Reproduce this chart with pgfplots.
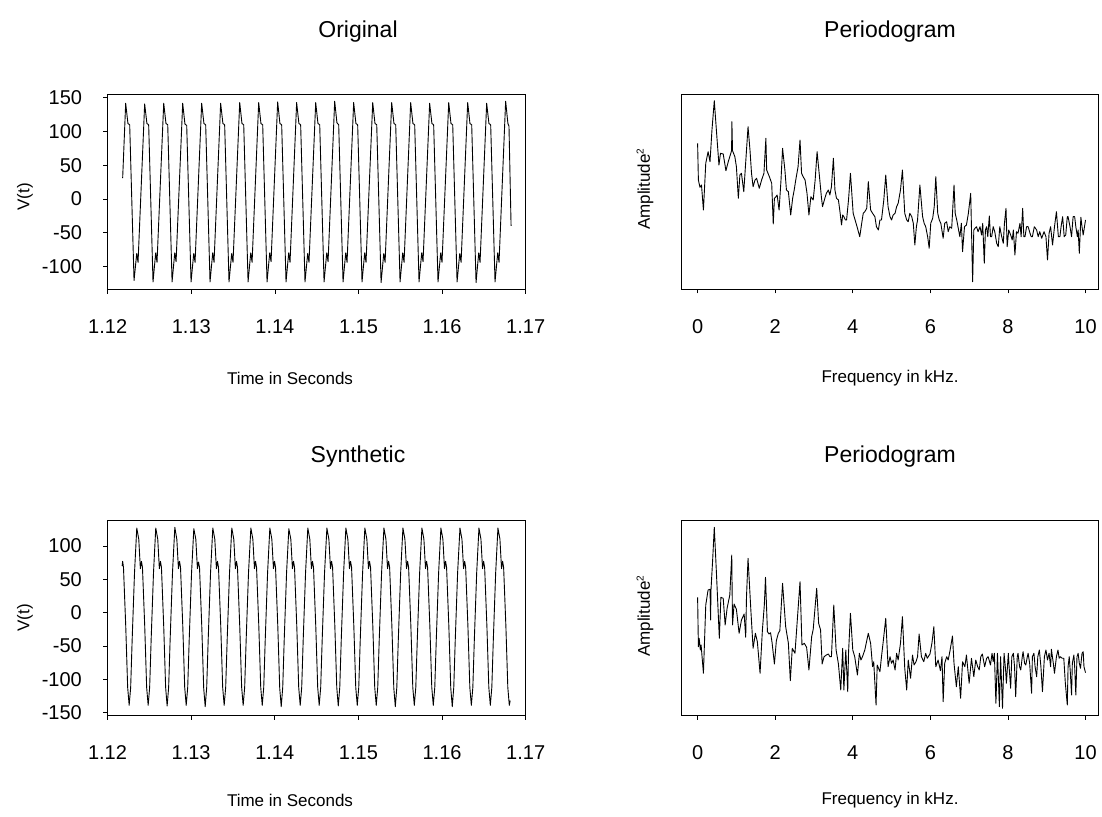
\documentclass[border=0pt]{standalone}
\usepackage{fontspec}
\setmainfont{Liberation Sans}
\usepackage{pgfplots}
\pgfplotsset{compat=1.18}
\pgfplotsset{
  panel/.style={scale only axis,
    axis line style={black, line width=0.8pt},
    tick style={black, line width=0.8pt},
    tick align=outside, major tick length=4.5pt,
    xtick pos=left, ytick pos=left,
    tick label style={font=\fontsize{20}{24}\selectfont},
    xticklabel style={inner sep=0pt, yshift=-26pt},
    yticklabel style={inner sep=0pt, xshift=-21pt}},
  sig/.style={black, line width=0.9pt, line join=round, no marks}
}
\begin{document}
\begin{tikzpicture}
\path (0pt,0pt) rectangle (1102pt,816pt);

% ---------------- Original ----------------
\begin{axis}[panel, at={(107.7pt,526.7pt)}, anchor=south west, width=418pt, height=195.3pt,
  xmin=1.12, xmax=1.17, ymin=-134, ymax=155.7,
  xtick={1.12,1.13,1.14,1.15,1.16,1.17}, xticklabels={1.12,1.13,1.14,1.15,1.16,1.17},
  ytick={-100,-50,0,50,100,150}, yticklabels={-100,-50,0,50,100,150}]
\addplot[sig] coordinates {
(1.12179,31)
(1.12215,142)(1.12242,112)(1.12263,110)(1.12315,-121)(1.12347,-81)(1.12363,-94)
(1.12442,141)(1.12469,112)(1.12490,110)(1.12542,-123)(1.12574,-80)(1.12590,-94)
(1.12670,142)(1.12697,112)(1.12718,110)(1.12770,-123)(1.12802,-80)(1.12818,-93)
(1.12897,142)(1.12924,111)(1.12945,109)(1.12997,-123)(1.13029,-81)(1.13045,-94)
(1.13124,142)(1.13151,112)(1.13172,110)(1.13224,-123)(1.13256,-80)(1.13272,-94)
(1.13351,142)(1.13378,112)(1.13399,110)(1.13451,-123)(1.13483,-81)(1.13499,-94)
(1.13579,143)(1.13606,112)(1.13627,110)(1.13679,-123)(1.13711,-80)(1.13727,-94)
(1.13806,143)(1.13833,112)(1.13854,110)(1.13906,-123)(1.13938,-80)(1.13954,-93)
(1.14033,144)(1.14060,112)(1.14081,110)(1.14133,-123)(1.14165,-80)(1.14181,-94)
(1.14260,143)(1.14287,112)(1.14308,110)(1.14360,-123)(1.14392,-81)(1.14408,-94)
(1.14488,143)(1.14515,112)(1.14536,110)(1.14588,-123)(1.14620,-80)(1.14636,-93)
(1.14715,145)(1.14742,113)(1.14763,110)(1.14815,-123)(1.14847,-80)(1.14863,-94)
(1.14942,143)(1.14969,112)(1.14990,110)(1.15042,-123)(1.15074,-80)(1.15090,-94)
(1.15170,143)(1.15197,112)(1.15218,110)(1.15270,-124)(1.15302,-81)(1.15318,-94)
(1.15397,143)(1.15424,112)(1.15445,110)(1.15497,-123)(1.15529,-80)(1.15545,-94)
(1.15624,143)(1.15651,112)(1.15672,110)(1.15724,-123)(1.15756,-80)(1.15772,-93)
(1.15851,142)(1.15878,112)(1.15899,110)(1.15951,-123)(1.15983,-80)(1.15999,-94)
(1.16079,143)(1.16106,112)(1.16127,110)(1.16179,-123)(1.16211,-81)(1.16227,-94)
(1.16306,143)(1.16333,112)(1.16354,110)(1.16406,-124)(1.16438,-80)(1.16454,-94)
(1.16533,142)(1.16560,112)(1.16581,110)(1.16633,-123)(1.16665,-80)(1.16681,-94)
(1.16760,145)(1.16787,112)(1.16800,108)(1.16825,-40)
};
\end{axis}

% ---------------- Synthetic ----------------
\begin{axis}[panel, at={(107.5pt,101pt)}, anchor=south west, width=418.2pt, height=195pt,
  xmin=1.12, xmax=1.17, ymin=-153.5, ymax=139,
  xtick={1.12,1.13,1.14,1.15,1.16,1.17}, xticklabels={1.12,1.13,1.14,1.15,1.16,1.17},
  ytick={-150,-100,-50,0,50,100}, yticklabels={-150,-100,-50,0,50,100}]
\addplot[sig] coordinates {
(1.12175,70)(1.12181,77)(1.12191,68)(1.12218,-20)(1.12241,-112)(1.12259,-139)(1.12277,-112)(1.12295,-40)(1.12323,60)
(1.12350,127)(1.12374,110)(1.12393,66)(1.12406,77)(1.12418,68)(1.12445,-20)(1.12468,-112)(1.12486,-139)(1.12504,-112)(1.12522,-40)(1.12550,60)
(1.12577,127)(1.12601,110)(1.12620,66)(1.12633,77)(1.12645,68)(1.12672,-20)(1.12695,-112)(1.12713,-140)(1.12731,-112)(1.12749,-40)(1.12777,60)
(1.12805,128)(1.12829,110)(1.12848,66)(1.12861,77)(1.12873,68)(1.12900,-20)(1.12923,-112)(1.12941,-139)(1.12959,-112)(1.12977,-40)(1.13005,60)
(1.13032,126)(1.13056,110)(1.13075,66)(1.13088,76)(1.13100,68)(1.13127,-20)(1.13150,-113)(1.13168,-141)(1.13186,-112)(1.13204,-40)(1.13232,60)
(1.13259,127)(1.13283,110)(1.13302,66)(1.13315,77)(1.13327,68)(1.13354,-20)(1.13377,-112)(1.13395,-139)(1.13413,-112)(1.13431,-40)(1.13459,60)
(1.13486,127)(1.13510,110)(1.13529,66)(1.13542,77)(1.13554,68)(1.13581,-20)(1.13604,-112)(1.13622,-139)(1.13640,-112)(1.13658,-40)(1.13686,60)
(1.13714,127)(1.13738,110)(1.13757,66)(1.13770,77)(1.13782,68)(1.13809,-20)(1.13832,-112)(1.13850,-139)(1.13868,-112)(1.13886,-40)(1.13914,60)
(1.13941,127)(1.13965,110)(1.13984,66)(1.13997,77)(1.14009,68)(1.14036,-20)(1.14059,-113)(1.14077,-141)(1.14095,-112)(1.14113,-40)(1.14141,60)
(1.14168,126)(1.14192,110)(1.14211,66)(1.14224,77)(1.14236,68)(1.14263,-20)(1.14286,-112)(1.14304,-139)(1.14322,-112)(1.14340,-40)(1.14368,60)
(1.14395,127)(1.14419,110)(1.14438,66)(1.14451,77)(1.14463,68)(1.14490,-20)(1.14513,-112)(1.14531,-139)(1.14549,-112)(1.14567,-40)(1.14595,60)
(1.14623,127)(1.14647,110)(1.14666,66)(1.14679,77)(1.14691,68)(1.14718,-20)(1.14741,-112)(1.14759,-140)(1.14777,-112)(1.14795,-40)(1.14823,60)
(1.14850,127)(1.14874,110)(1.14893,66)(1.14906,77)(1.14918,68)(1.14945,-20)(1.14968,-112)(1.14986,-139)(1.15004,-112)(1.15022,-40)(1.15050,60)
(1.15077,127)(1.15101,110)(1.15120,66)(1.15133,77)(1.15145,68)(1.15172,-20)(1.15195,-112)(1.15213,-139)(1.15231,-112)(1.15249,-40)(1.15277,60)
(1.15305,127)(1.15329,110)(1.15348,66)(1.15361,77)(1.15373,68)(1.15400,-20)(1.15423,-113)(1.15441,-141)(1.15459,-112)(1.15477,-40)(1.15505,60)
(1.15532,127)(1.15556,110)(1.15575,66)(1.15588,77)(1.15600,68)(1.15627,-20)(1.15650,-112)(1.15668,-139)(1.15686,-112)(1.15704,-40)(1.15732,60)
(1.15759,127)(1.15783,110)(1.15802,66)(1.15815,77)(1.15827,68)(1.15854,-20)(1.15877,-112)(1.15895,-139)(1.15913,-112)(1.15931,-40)(1.15959,60)
(1.15986,127)(1.16010,110)(1.16029,66)(1.16042,77)(1.16054,68)(1.16081,-20)(1.16104,-113)(1.16122,-141)(1.16140,-112)(1.16158,-40)(1.16186,60)
(1.16214,127)(1.16238,110)(1.16257,66)(1.16270,77)(1.16282,68)(1.16309,-20)(1.16332,-112)(1.16350,-139)(1.16368,-112)(1.16386,-40)(1.16414,60)
(1.16441,127)(1.16465,110)(1.16484,66)(1.16497,77)(1.16509,68)(1.16536,-20)(1.16559,-112)(1.16577,-139)(1.16595,-112)(1.16613,-40)(1.16641,60)
(1.16668,127)(1.16692,110)(1.16711,66)(1.16724,77)(1.16736,68)(1.16763,-20)(1.16786,-112)(1.16804,-139)(1.16814,-132)
};
\end{axis}

% ---------------- Periodogram (original) ----------------
\begin{axis}[panel, at={(681.7pt,527pt)}, anchor=south west, width=417pt, height=195pt,
  xmin=-0.41, xmax=10.34, ymin=0, ymax=195,
  xtick={0,2,4,6,8,10}, xticklabels={0,2,4,6,8,10}, ytick=\empty]
\addplot[sig] coordinates {
(0.00,145.7)(0.02,109)(0.06,101.7)(0.10,104)(0.15,79)(0.21,125.7)(0.27,137.3)(0.32,127.3)(0.37,159)(0.43,188.3)
(0.49,155.7)(0.55,124)(0.59,135.7)(0.66,135)(0.73,118.3)(0.79,127.3)(0.876,138.3)(0.884,167.3)(0.90,138.3)(0.96,132.3)
(1.00,122.3)(1.05,90.7)(1.09,114)(1.13,115.7)(1.19,97.3)(1.30,162.3)(1.35,139)(1.39,115.7)(1.43,102.3)(1.48,109)
(1.52,110.7)(1.59,100.7)(1.65,109)(1.71,115.7)(1.76,150.7)(1.78,119)(1.85,112.3)(1.91,105.7)(1.95,65)(1.98,90.7)
(2.02,92.3)(2.05,94)(2.10,79)(2.15,109)(2.19,140.7)(2.25,119)(2.29,99)(2.34,97.3)(2.40,74)(2.45,90.7)
(2.49,99)(2.53,109)(2.59,122.3)(2.64,149)(2.68,115.7)(2.72,112.3)(2.77,109)(2.82,95.7)(2.87,74)(2.92,92.3)
(2.98,89)(3.03,109)(3.08,137.3)(3.15,109)(3.19,92.3)(3.22,82.3)(3.28,90.7)(3.32,95.7)(3.37,99)(3.41,94)
(3.45,102.3)(3.50,130.7)(3.54,99)(3.58,90.7)(3.63,89)(3.67,77.3)(3.71,64)(3.74,74)(3.77,72.3)(3.81,69)
(3.84,69)(3.89,89)(3.94,115.7)(4.01,75.7)(4.06,69)(4.11,62.3)(4.18,52.3)(4.23,65.7)(4.27,75.7)(4.31,77.3)
(4.36,80.7)(4.40,107.3)(4.46,79)(4.51,75.7)(4.57,72.3)(4.61,62.3)(4.66,59)(4.70,69)(4.74,69)(4.80,89)
(4.85,114)(4.91,82.3)(4.96,72.3)(5.00,69)(5.04,74)(5.09,75.7)(5.13,82.3)(5.17,85.7)(5.23,99)(5.28,119)
(5.34,75.7)(5.39,69)(5.43,67.3)(5.47,75.7)(5.52,72.3)(5.56,65.7)(5.60,44)(5.64,62.3)(5.67,69)(5.73,104)
(5.80,72.3)(5.84,65.7)(5.88,62.3)(5.93,52.3)(5.97,40.7)(6.01,65.7)(6.06,70.7)(6.10,82.3)(6.14,112.3)(6.19,75.7)
(6.23,69)(6.27,65.7)(6.33,50.7)(6.37,65.7)(6.42,67.3)(6.46,57.3)(6.50,62.3)(6.55,60.7)(6.61,104)(6.64,75.7)
(6.68,69)(6.72,60.7)(6.76,52.3)(6.80,65.7)(6.83,37.3)(6.88,62.3)(6.93,64)(6.98,75.7)(7.04,95.7)(7.09,7.3)
(7.12,59)(7.15,60.7)(7.19,62.3)(7.23,57.3)(7.28,62.3)(7.32,54)(7.35,65.7)(7.39,25.7)(7.42,59)(7.45,62.3)
(7.48,52.3)(7.52,73)(7.55,52.3)(7.58,52.3)(7.62,62.3)(7.66,57.3)(7.71,45.7)(7.75,42.3)(7.79,62.3)(7.83,54)
(7.88,45.7)(7.91,65.7)(7.95,80.7)(7.98,42.3)(8.02,59)(8.07,54)(8.11,49)(8.14,59)(8.18,34)(8.22,57.3)
(8.26,55.7)(8.31,65.7)(8.34,52.3)(8.38,80.7)(8.41,52.3)(8.44,52.3)(8.48,62.3)(8.52,62.3)(8.57,55.7)(8.60,52.3)
(8.63,52.3)(8.68,62.3)(8.74,59)(8.78,52.3)(8.82,57.3)(8.87,50.7)(8.93,57.3)(8.98,52.3)(9.02,29)(9.06,55.7)
(9.10,62.3)(9.15,44)(9.20,62.3)(9.25,77.3)(9.30,52.3)(9.34,52.3)(9.37,62.3)(9.41,72.3)(9.45,52.3)(9.49,54)
(9.53,72.3)(9.55,72.3)(9.60,62.3)(9.64,52.3)(9.68,72.3)(9.72,72.3)(9.75,62.3)(9.79,52.3)(9.81,59)(9.84,35.7)
(9.88,71.7)(9.91,62.3)(9.94,54)(10.00,69)
};
\end{axis}

% ---------------- Periodogram (synthetic) ----------------
\begin{axis}[panel, at={(681.7pt,101pt)}, anchor=south west, width=417pt, height=195pt,
  xmin=-0.41, xmax=10.34, ymin=0, ymax=195,
  xtick={0,2,4,6,8,10}, xticklabels={0,2,4,6,8,10}, ytick=\empty]
\addplot[sig] coordinates {
(0.00,117.7)(0.02,68.3)(0.04,76.7)(0.07,65)(0.09,70)(0.15,41.7)(0.21,110)(0.27,125)(0.32,125.7)(0.335,95)
(0.345,125)(0.39,156.7)(0.43,187.7)(0.49,138)(0.56,76.7)(0.60,117.7)(0.66,116.7)(0.71,90)(0.76,106.7)(0.83,120)
(0.88,160)(0.90,90)(0.94,111)(1.00,105.7)(1.07,81.7)(1.13,95)(1.20,101)(1.24,77.7)(1.26,118)(1.30,156.7)
(1.37,106.7)(1.43,66.7)(1.49,81.7)(1.54,73.3)(1.61,41.7)(1.67,85)(1.72,110)(1.75,137.7)(1.80,83.3)(1.84,81)
(1.88,82.3)(1.92,72.3)(1.98,51)(2.03,74.3)(2.08,81.7)(2.12,84.3)(2.19,131.7)(2.27,88.3)(2.34,71.7)(2.39,34.3)
(2.44,66.7)(2.51,61.7)(2.57,95)(2.64,133.3)(2.69,70)(2.75,71.7)(2.81,67.7)(2.87,45)(2.94,78.3)(2.98,85.7)
(3.07,126.7)(3.12,91.7)(3.17,85)(3.21,51)(3.26,58.3)(3.32,60)(3.37,61)(3.41,58.3)(3.45,58.3)(3.51,110)
(3.57,65)(3.63,51)(3.69,25)(3.74,66.7)(3.77,25)(3.82,65)(3.87,23.3)(3.89,61.7)(3.94,101.7)(4.00,65)
(4.05,58.3)(4.12,40)(4.17,61.7)(4.21,55)(4.25,58.3)(4.31,65)(4.40,81.7)(4.46,71.7)(4.51,48.3)(4.54,53.3)
(4.60,10)(4.63,50)(4.70,43.3)(4.74,58.3)(4.78,71.7)(4.85,96.7)(4.91,48.3)(4.96,58.3)(5.00,51.7)(5.04,55)
(5.09,45)(5.13,61.7)(5.17,55)(5.23,71.7)(5.28,98.3)(5.34,46.7)(5.39,25)(5.43,55)(5.49,36.7)(5.54,60)
(5.58,50)(5.63,53.3)(5.67,58.3)(5.71,81)(5.77,58.3)(5.83,53.3)(5.88,61.7)(5.92,56.7)(5.99,61)(6.04,71.7)
(6.09,88.3)(6.14,48.3)(6.20,55)(6.26,44.3)(6.30,58.3)(6.33,13.3)(6.37,51.7)(6.42,58.3)(6.46,55)(6.51,65)
(6.57,79)(6.61,51.7)(6.67,28.3)(6.72,48.3)(6.78,16.7)(6.83,53.3)(6.89,48.3)(6.93,60)(7.00,31.7)(7.06,56.7)
(7.12,38.3)(7.17,55)(7.22,48.3)(7.26,45)(7.30,58.3)(7.34,61)(7.40,48.3)(7.45,56.7)(7.49,58.3)(7.55,50)
(7.59,61.7)(7.62,53.3)(7.65,61.7)(7.69,11.7)(7.73,61.7)(7.78,8.3)(7.81,58.3)(7.86,6.7)(7.90,61.7)(7.94,45)
(7.96,31.7)(8.01,61.7)(8.03,48.3)(8.07,26.7)(8.10,58.3)(8.14,61.7)(8.17,48.3)(8.20,18.3)(8.24,58.3)(8.26,61.7)
(8.30,48.3)(8.33,45)(8.37,58.3)(8.39,63.3)(8.43,51.7)(8.46,50)(8.50,58.3)(8.52,61.7)(8.56,51.7)(8.61,21.7)
(8.63,58.3)(8.67,61.7)(8.70,48.3)(8.74,38.3)(8.77,58.3)(8.81,65)(8.85,48.3)(8.89,23.3)(8.94,58.3)(8.98,65)
(9.02,55)(9.06,61.7)(9.10,48.3)(9.12,65.7)(9.17,51.7)(9.20,41.7)(9.25,58.3)(9.29,65)(9.32,56.7)(9.35,58.3)
(9.40,56.7)(9.44,56.7)(9.48,31.7)(9.53,10)(9.55,48.3)(9.58,58.3)(9.61,41.7)(9.64,20)(9.66,51.7)(9.70,60)
(9.72,48.3)(9.75,20)(9.78,58.3)(9.81,61.7)(9.84,51.7)(9.87,46.7)(9.91,61.7)(9.94,63.3)(9.96,48.3)(10.00,42.3)
};
\end{axis}

% ---------------- titles and labels ----------------
\node[font=\fontsize{23}{28}\selectfont] at (358pt,784pt) {Original};
\node[font=\fontsize{23}{28}\selectfont] at (890pt,784pt) {Periodogram};
\node[font=\fontsize{23}{28}\selectfont] at (358pt,359pt) {Synthetic};
\node[font=\fontsize{23}{28}\selectfont] at (890pt,359pt) {Periodogram};
\node[font=\fontsize{17}{20}\selectfont] at (290pt,438pt) {Time in Seconds};
\node[font=\fontsize{17}{20}\selectfont] at (890pt,438pt) {Frequency in kHz.};
\node[font=\fontsize{17}{20}\selectfont] at (290pt,16pt) {Time in Seconds};
\node[font=\fontsize{17}{20}\selectfont] at (890pt,16pt) {Frequency in kHz.};
\node[font=\fontsize{17}{20}\selectfont, rotate=90] at (25pt,619pt) {V(t)};
\node[font=\fontsize{17}{20}\selectfont, rotate=90] at (25pt,198pt) {V(t)};
\node[font=\fontsize{17}{20}\selectfont, rotate=90] at (645pt,627pt) {Amplitude\textsuperscript{\fontsize{10}{12}\selectfont 2}};
\node[font=\fontsize{17}{20}\selectfont, rotate=90] at (645pt,200pt) {Amplitude\textsuperscript{\fontsize{10}{12}\selectfont 2}};
\end{tikzpicture}
\end{document}
